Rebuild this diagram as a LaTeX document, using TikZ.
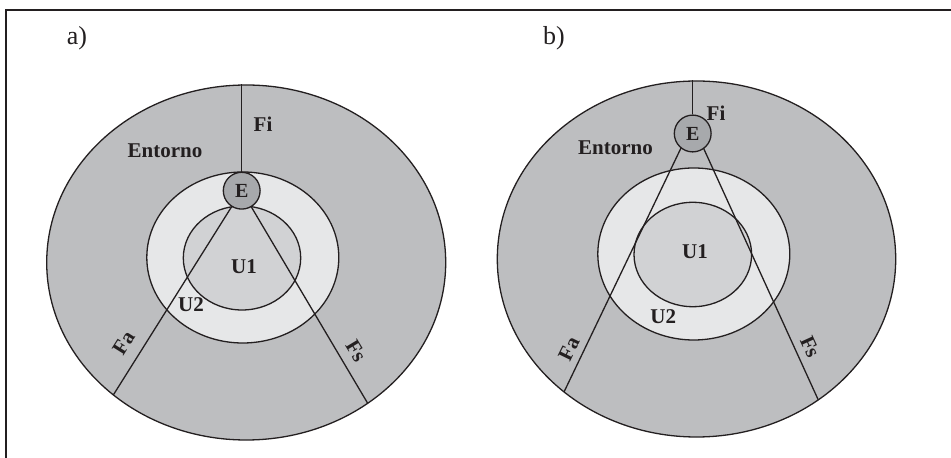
\documentclass[tikz,border=0pt]{standalone}
\usepackage{fontspec}
\setmainfont{Liberation Serif}
\usetikzlibrary{shapes.geometric}
\definecolor{cline}{HTML}{231F20}
\definecolor{couter}{HTML}{BDBEC0}
\definecolor{cring}{HTML}{E6E7E8}
\definecolor{ccore}{HTML}{D1D2D4}
\definecolor{cagent}{HTML}{A7A9AC}
\tikzset{
  every picture/.style={line width=0.65pt},
  zone/.style={ellipse, draw=cline, fill=#1, inner sep=0pt},
  agent/.style={circle, draw=cline, fill=cagent, minimum size=18.4pt, inner sep=0pt, text=cline, font=\bfseries\fontsize{10}{12}\selectfont},
  lbl/.style={text=cline, inner sep=0pt, font=\bfseries\fontsize{10.5}{12}\selectfont},
  tag/.style={text=cline, inner sep=0pt, font=\fontsize{13}{15}\selectfont},
  flow/.style={draw=cline},
}

\begin{document}
\begin{tikzpicture}[x=0.5pt, y=-0.5pt]
  \useasboundingbox (0,0) rectangle (951,458);
  \draw[flow] (951,10) -- (6,10) -- (6,458);

  \node[tag] (tagA) at (77,38) {a)};
  \node[tag] (tagB) at (554,38) {b)};

  % a) E at the boundary of U2
  \node[zone=couter, minimum width=199.5pt, minimum height=177.5pt] (outA) at (246.2,262.5) {};
  \node[zone=cring, minimum width=96pt, minimum height=85.5pt] (ringA) at (242.8,257.5) {};
  \node[zone=ccore, minimum width=58.7pt, minimum height=52pt] (coreA) at (242,258) {};
  \coordinate (faEndA) at (113.3,395);
  \coordinate (fsEndA) at (367.7,403.3);
  \node[agent] (eA) at (241.7,190.7) {E};
  \draw[flow] (eA) -- (eA |- outA.north);
  \draw[flow] (eA) -- (faEndA);
  \draw[flow] (eA) -- (fsEndA);
  \node[lbl] (entA) at (165,151) {Entorno};
  \node[lbl] (fiA) at (263,124) {Fi};
  \node[lbl] (u1A) at (244,266.7) {U1};
  \node[lbl] (u2A) at (191,305) {U2};
  \node[lbl, rotate=58] (faA) at (124,343) {Fa};
  \node[lbl, rotate=-59] (fsA) at (356,351) {Fs};

  % b) E out in the environment
  \node[zone=couter, minimum width=199.2pt, minimum height=178pt] (outB) at (696.5,259) {};
  \node[zone=cring, minimum width=96pt, minimum height=86pt] (ringB) at (693.8,254) {};
  \node[zone=ccore, minimum width=58.8pt, minimum height=52.2pt] (coreB) at (692.8,254.5) {};
  \coordinate (apexB) at (692.5,124);
  \coordinate (faEndB) at (564,392);
  \coordinate (fsEndB) at (818.3,400);
  \draw[flow] (apexB) -- (faEndB);
  \draw[flow] (apexB) -- (fsEndB);
  \node[agent] (eB) at (692.7,133.5) {E};
  \draw[flow] (eB) -- (eB |- outB.north);
  \node[lbl] (entB) at (615.5,148) {Entorno};
  \node[lbl] (fiB) at (716,113) {Fi};
  \node[lbl] (u1B) at (695,252) {U1};
  \node[lbl] (u2B) at (663.3,316.7) {U2};
  \node[lbl, rotate=64] (faB) at (569,349) {Fa};
  \node[lbl, rotate=-65.5] (fsB) at (810,347) {Fs};
\end{tikzpicture}
\end{document}
